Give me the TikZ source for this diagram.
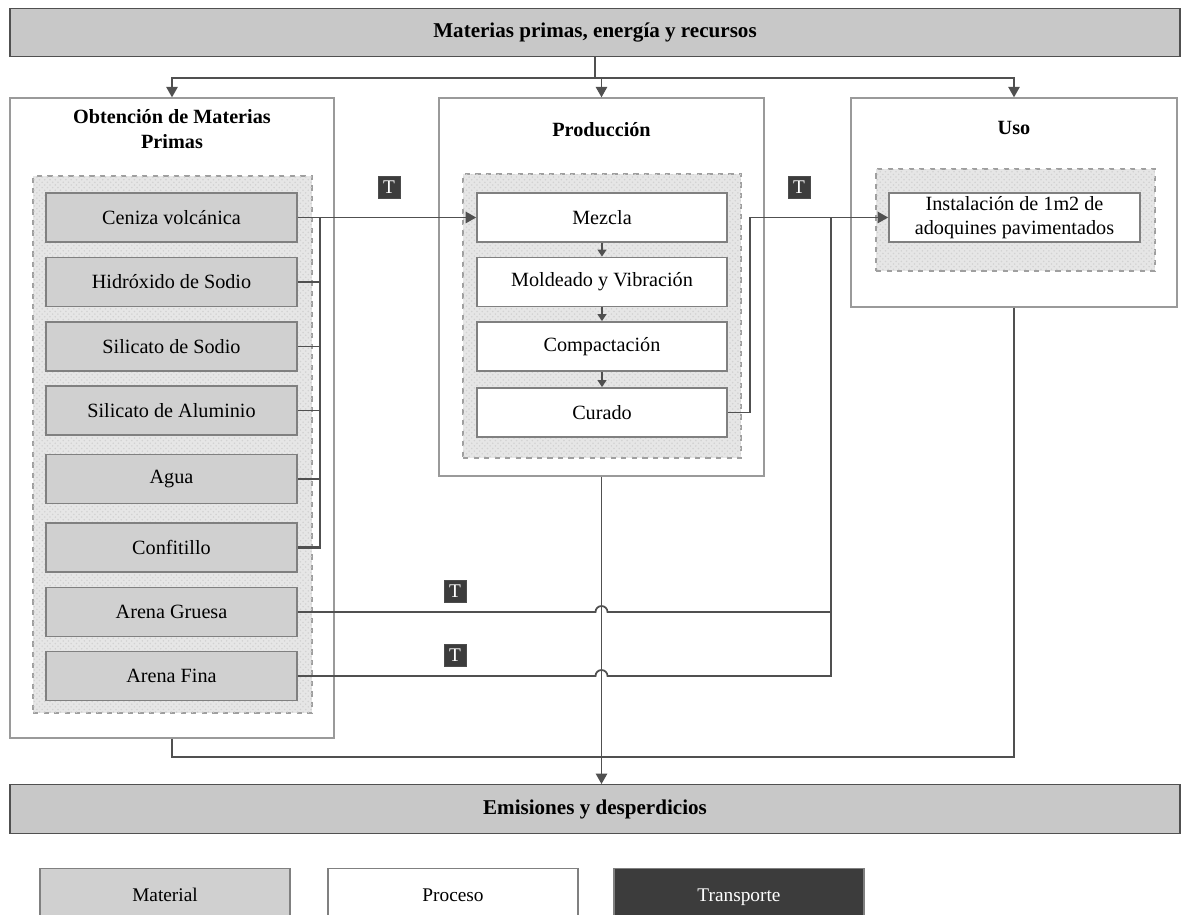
\documentclass[tikz,border=0pt]{standalone}
\usepackage{fontspec}
\setmainfont{Liberation Serif}
\usetikzlibrary{arrows.meta,calc,patterns}
\definecolor{barfill}{HTML}{C8C8C8}
\definecolor{matfill}{HTML}{D0D0D0}
\definecolor{linec}{HTML}{505050}
\definecolor{boxedge}{HTML}{808080}
\definecolor{outeredge}{HTML}{9A9A9A}
\definecolor{tfill}{HTML}{3C3C3C}
\definecolor{dotfill}{HTML}{E6E6E6}
\tikzset{
  bar/.style={draw=linec, fill=barfill, line width=0.8pt, minimum width=23.4cm, minimum height=0.97cm, inner sep=0pt, font=\fontsize{12}{14}\selectfont\bfseries},
  outer/.style={draw=outeredge, line width=0.8pt, fill=white, inner sep=0pt},
  cont/.style={draw=gray!75, dashed, line width=1.1pt, fill=dotfill, inner sep=0pt, postaction={pattern=crosshatch dots, pattern color=gray!35}},
  mat/.style={draw=boxedge, fill=matfill, line width=1pt, minimum width=5.02cm, minimum height=0.98cm, inner sep=0pt, font=\fontsize{11.5}{14}\selectfont},
  proc/.style={draw=boxedge, fill=white, line width=1pt, minimum width=5.0cm, minimum height=0.98cm, inner sep=0pt, font=\fontsize{11.5}{14}\selectfont, align=center},
  ttl/.style={font=\fontsize{11.5}{14}\selectfont\bfseries, align=center, inner sep=0pt},
  tbox/.style={fill=tfill, draw=gray!60!black, minimum width=0.44cm, minimum height=0.44cm, inner sep=0pt, text=white, font=\fontsize{11}{13}\selectfont},
  legend/.style={draw=gray, line width=0.8pt, minimum width=5.0cm, minimum height=1.2cm, inner sep=0pt, anchor=north, font=\fontsize{11}{13}\selectfont},
  conn/.style={draw=linec, line width=1pt},
  arr/.style={conn, -{Triangle[length=6pt,width=6.5pt]}},
  sarr/.style={conn, -{Triangle[length=4pt,width=5pt]}},
}
\begin{document}
\begin{tikzpicture}[x=0.02cm,y=-0.02cm]
\useasboundingbox (0,0) rectangle (1190,915);
% top and bottom bars
\node[bar] (top) at (595,32.5) {Materias primas, energía y recursos};
\node[bar] (bot) at (595,809) {Emisiones y desperdicios};
% outer boxes
\node[outer, minimum width=6.48cm, minimum height=12.8cm] (obt) at (172,418) {};
\node[outer, minimum width=6.5cm, minimum height=7.56cm] (prod) at (601.5,287) {};
\node[outer, minimum width=6.52cm, minimum height=4.18cm] (uso) at (1014,202.5) {};
\node[ttl] (obtT) at (172,129) {Obtención de Materias\\Primas};
\node[ttl] (prodT) at (601.5,130) {Producción};
\node[ttl] (usoT) at (1014,128) {Uso};
% containers
\node[cont, minimum width=5.58cm, minimum height=10.74cm] (c1) at (172.5,444.5) {};
\node[cont, minimum width=5.56cm, minimum height=5.68cm] (c2) at (602,316) {};
\node[cont, minimum width=5.58cm, minimum height=2.04cm] (c3) at (1015.5,220) {};
% materials
\node[mat] (m1) at (171.5,217.5) {Ceniza volcánica};
\node[mat] (m2) at (171.5,282) {Hidróxido de Sodio};
\node[mat] (m3) at (171.5,346.5) {Silicato de Sodio};
\node[mat] (m4) at (171.5,410.5) {Silicato de Aluminio};
\node[mat] (m5) at (171.5,479) {Agua};
\node[mat] (m6) at (171.5,547.5) {Confitillo};
\node[mat] (m7) at (171.5,612) {Arena Gruesa};
\node[mat] (m8) at (171.5,676) {Arena Fina};
% processes
\node[proc] (p1) at (602,217.5) {Mezcla};
\node[proc] (p2) at (602,282) {Moldeado y Vibración};
\node[proc] (p3) at (602,346.5) {Compactación};
\node[proc] (p4) at (602,412.5) {Curado};
\node[proc, minimum width=5.02cm] (inst) at (1014.5,217.5) {Instalación de 1m2 de\\adoquines pavimentados};
% transport marks
\node[tbox] (t1) at (389,187) {T};
\node[tbox] (t2) at (799,187) {T};
\node[tbox] (t3) at (455,591) {T};
\node[tbox] (t4) at (455,655) {T};
% top distribution
\coordinate (j1) at (595,78);
\draw[conn] (top.south) -- (j1);
\draw[arr] (j1) -| (obt.north);
\draw[arr] (j1) -| (uso.north);
\draw[arr] (j1) -| (prod.north);
% bottom collection
\coordinate (j2) at (601.5,757);
\draw[conn] (obt.south) |- (j2);
\draw[conn] (uso.south) |- (j2);
\draw[arr] (prod.south) -- (prod.south |- bot.north);
% materials to production
\coordinate (col) at (320,217.5);
\draw[arr] (m1.east) -- (p1.west);
\draw[conn, line width=1.4pt] (m6.east) -| (col);
\foreach \m in {m2,m3,m4,m5}{\draw[conn] (\m.east) -- (\m.east -| col);}
% process chain
\draw[sarr] (p1.south) -- (p2.north);
\draw[sarr] (p2.south) -- (p3.north);
\draw[sarr] (p3.south) -- (p4.north);
% production to use
\coordinate (k) at (750,217.5);
\draw[arr] (p4.east) -| (k) -- (inst.west);
% sand transport
\coordinate (a) at (831,217.5);
\draw[conn] (m7.east) -- ($(m7.east -| prod.south)+(-6,0)$) arc[start angle=180,end angle=0,radius=0.12cm] -- (m7.east -| a) -- (a);
\draw[conn] (m8.east) -- ($(m8.east -| prod.south)+(-6,0)$) arc[start angle=180,end angle=0,radius=0.12cm] -- (m8.east -| a) -- (m7.east -| a);
% legend
\node[legend, fill=matfill] (lg1) at (165,868) {\raisebox{0.14cm}{Material}};
\node[legend, fill=white] (lg2) at (453,868) {\raisebox{0.14cm}{Proceso}};
\node[legend, fill=tfill, text=white] (lg3) at (739,868) {\raisebox{0.14cm}{Transporte}};
\end{tikzpicture}
\end{document}
